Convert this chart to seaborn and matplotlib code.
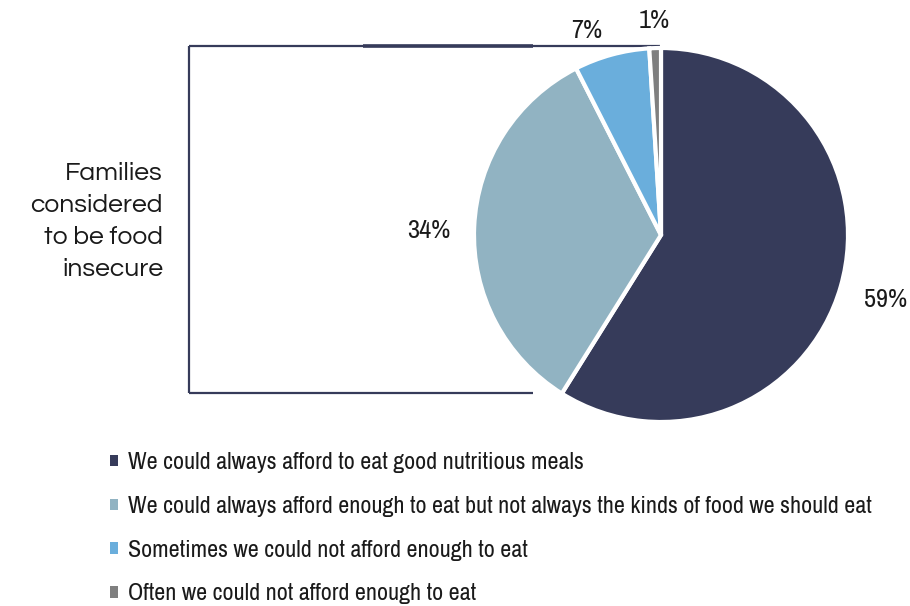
import matplotlib
matplotlib.use("Agg")
import matplotlib.pyplot as plt
from matplotlib import font_manager as fm
import seaborn as sns
import numpy as np

categories = [
    "We could always afford to eat good nutritious meals",
    "We could always afford enough to eat but not always the kinds of food we should eat",
    "Sometimes we could not afford enough to eat",
    "Often we could not afford enough to eat",
]
values = [58.9, 33.6, 6.5, 1.0]
pct_labels = ["59%", "34%", "7%", "1%"]
colors = ["#363B5A", "#91B3C2", "#6AAEDC", "#7F7F7F"]
bracket_text = "Families\nconsidered\nto be food\ninsecure"

available = set(f.name for f in fm.fontManager.ttflist)


def pick(cands):
    for c in cands:
        if c in available:
            return c
    return "DejaVu Sans"


narrow = pick(["Liberation Sans Narrow", "Arial Narrow", "Archivo Narrow", "Roboto Condensed",
               "PT Sans Narrow", "Open Sans Condensed", "IBM Plex Sans Condensed"])
gothic = pick(["Century Gothic", "Questrial", "Didact Gothic", "Mulish", "Lato"])

sns.set_theme(style="white")
plt.rcParams['font.family'] = [narrow, 'DejaVu Sans']

W, H = 910, 606
fig = plt.figure(figsize=(W / 100, H / 100), dpi=100)

ov = fig.add_axes([0, 0, 1, 1])
ov.set_xlim(0, W)
ov.set_ylim(H, 0)
ov.axis("off")

cx, cy, r = 661, 235, 187
pie_ax = fig.add_axes([(cx - r) / W, 1 - (cy + r) / H, 2 * r / W, 2 * r / H])
wedges, _ = pie_ax.pie(values, colors=colors, startangle=90, counterclock=False,
                       radius=1.0,
                       wedgeprops=dict(edgecolor="white", linewidth=3))
pie_ax.set_xlim(-1, 1)
pie_ax.set_ylim(-1, 1)
pie_ax.set_aspect("equal")
pie_ax.axis("off")

label_dist = [1.25, 1.24, 1.165, 1.15]
label_shift = [0, 1.5, 4.5, 0]  # degrees
for w, lab, d, s in zip(wedges, pct_labels, label_dist, label_shift):
    ang = np.deg2rad((w.theta1 + w.theta2) / 2 + s)
    pie_ax.text(d * np.cos(ang), d * np.sin(ang), lab, ha="center", va="center",
                fontsize=19, color="#1a1a1a", clip_on=False)

navy = "#363B5A"
ov.plot([189, 660], [46, 46], color=navy, lw=1.6, solid_capstyle="butt")
ov.plot([363, 533], [46, 46], color=navy, lw=2.6, solid_capstyle="butt")
ov.plot([189, 189], [46, 393], color=navy, lw=1.6, solid_capstyle="butt")
ov.plot([189, 533], [393, 393], color=navy, lw=1.6, solid_capstyle="butt")
ov.text(163, 221, bracket_text, ha="right", va="center", fontsize=19,
        family=[gothic, "DejaVu Sans"], color="#1a1a1a", linespacing=1.5)

handles = [plt.Rectangle((0, 0), 1, 1, facecolor=c, edgecolor="none") for c in colors]
leg = fig.legend(handles, categories, loc="upper left",
                 bbox_to_anchor=(110 / W, 1 - 452 / H),
                 frameon=False, fontsize=17.3, handlelength=0.35, handleheight=0.35,
                 handletextpad=0.38, labelspacing=0.95, borderaxespad=0, borderpad=0)
for t in leg.get_texts():
    t.set_color("#1a1a1a")

fig.savefig("out.png", dpi=100)
